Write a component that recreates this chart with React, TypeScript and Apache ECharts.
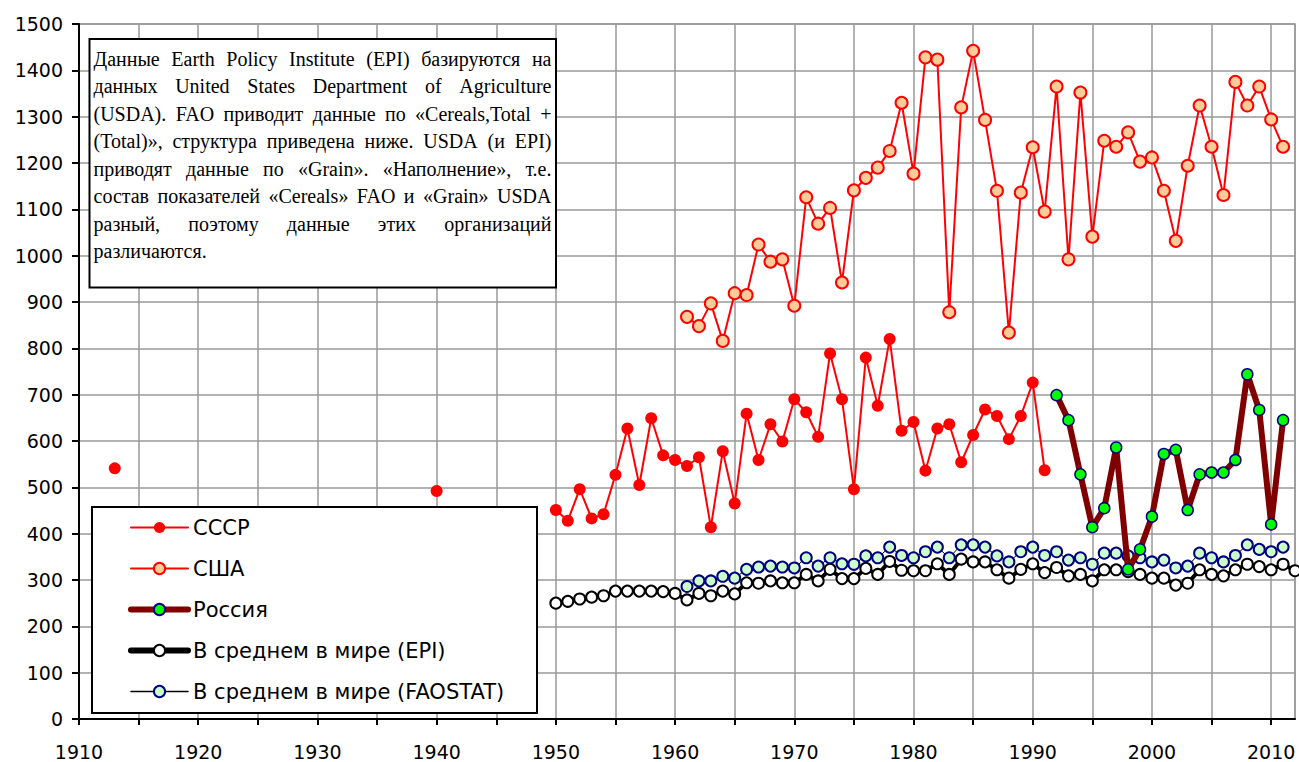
import React, { useEffect, useRef } from "react";
import * as echarts from "echarts";

// ---- data ----
const ussrYears = [1913, 1940, 1950, 1951, 1952, 1953, 1954, 1955, 1956, 1957, 1958, 1959, 1960, 1961, 1962, 1963, 1964, 1965, 1966, 1967, 1968, 1969, 1970, 1971, 1972, 1973, 1974, 1975, 1976, 1977, 1978, 1979, 1980, 1981, 1982, 1983, 1984, 1985, 1986, 1987, 1988, 1989, 1990, 1991];
const ussrValues = [541, 492, 451, 428, 496, 433, 442, 527, 627, 505, 649, 569, 559, 546, 565, 414, 578, 465, 659, 559, 636, 599, 690, 662, 609, 789, 690, 496, 780, 676, 820, 622, 641, 536, 627, 636, 554, 613, 668, 654, 604, 654, 726, 537];

const usaStart = 1961;
const usaValues = [868, 848, 897, 816, 919, 915, 1024, 987, 992, 892, 1126, 1069, 1103, 942, 1141, 1168, 1190, 1226, 1330, 1177, 1428, 1423, 878, 1320, 1442, 1293, 1140, 834, 1136, 1234, 1095, 1365, 992, 1352, 1041, 1248, 1235, 1266, 1203, 1212, 1140, 1032, 1194, 1324, 1235, 1131, 1375, 1324, 1365, 1294, 1235];

const russiaStart = 1992;
const russiaValues = [699, 645, 528, 414, 455, 586, 323, 366, 437, 572, 581, 451, 528, 532, 532, 559, 744, 667, 420, 645];

const epiStart = 1950;
const epiValues = [250, 254, 259, 263, 266, 276, 276, 276, 276, 275, 271, 257, 271, 266, 276, 270, 294, 293, 298, 294, 294, 312, 298, 323, 303, 303, 325, 312, 340, 321, 320, 320, 335, 312, 345, 339, 339, 322, 304, 323, 335, 316, 327, 309, 312, 298, 322, 322, 318, 312, 304, 304, 289, 293, 322, 312, 309, 322, 334, 329, 322, 334, 320];

const faoStart = 1961;
const faoValues = [286, 298, 298, 308, 304, 323, 328, 330, 328, 326, 348, 330, 348, 335, 334, 352, 348, 371, 353, 348, 361, 371, 348, 376, 376, 371, 352, 339, 361, 371, 353, 361, 343, 348, 334, 358, 358, 352, 348, 339, 343, 326, 330, 358, 348, 339, 353, 376, 366, 361, 371];

const seriesNames = ["СССР", "США", "Россия", "В среднем в мире (EPI)", "В среднем в мире (FAOSTAT)"];

const noteLines = [
  "Данные Earth Policy Institute (EPI) базируются на",
  "данных United States Department of Agriculture",
  "(USDA). FAO приводит данные по «Cereals,Total +",
  "(Total)», структура приведена ниже. USDA (и EPI)",
  "приводят данные по «Grain». «Наполнение», т.е.",
  "состав показателей «Cereals» FAO и «Grain» USDA",
  "разный, поэтому данные этих организаций",
  "различаются.",
];

function seq(start: number, values: number[]) {
  return values.map((v, i) => [start + i, v]);
}
function withGaps(years: number[], values: number[]) {
  const out: any[] = [];
  years.forEach((y, i) => {
    if (i > 0 && y - years[i - 1] > 1) out.push([years[i - 1] + 1, "-"]);
    out.push([y, values[i]]);
  });
  return out;
}

const SANS = "'DejaVu Sans', 'Liberation Sans', Arial, sans-serif";
const SERIF = "'Liberation Serif', 'Times New Roman', serif";

export default function App() {
  const ref = useRef<HTMLDivElement>(null);
  useEffect(() => {
    if (!ref.current) return;
    const chart = echarts.init(ref.current, null, { renderer: "svg" });

    // justified note text
    const fs = 20;
    const canvas = document.createElement("canvas");
    const ctx = canvas.getContext("2d")!;
    ctx.font = `${fs}px ${SERIF}`;
    const textX = 93.5;
    const textW = 458;
    const firstY = 59;
    const lh = 27.45;
    const noteEls: any[] = [];
    noteLines.forEach((line, li) => {
      const y = firstY + li * lh;
      const words = line.split(" ");
      if (li === noteLines.length - 1 || words.length < 2) {
        noteEls.push({
          type: "text", x: textX, y, z: 11,
          style: { text: line, font: `${fs}px ${SERIF}`, fill: "#000", textVerticalAlign: "middle" },
        });
        return;
      }
      const widths = words.map((w) => ctx.measureText(w).width);
      const sum = widths.reduce((a, b) => a + b, 0);
      const gap = (textW - sum) / (words.length - 1);
      let x = textX;
      words.forEach((w, wi) => {
        noteEls.push({
          type: "text", x, y, z: 11,
          style: { text: w, font: `${fs}px ${SERIF}`, fill: "#000", textVerticalAlign: "middle" },
        });
        x += widths[wi] + gap;
      });
    });

    const legendLineWidths = [2, 2, 6, 6, 1.5];
    const legendLineColors = ["#ff0000", "#ff0000", "#800000", "#000", "#000"];

    const option: any = {
      animation: false,
      backgroundColor: "#fff",
      grid: {
        left: 79, right: 4, top: 24, bottom: 43,
        show: true, borderColor: "#999", borderWidth: 1.5,
      },
      xAxis: {
        type: "value", min: 1910, max: 2012, interval: 5,
        axisLine: { show: true, onZero: false, lineStyle: { color: "#000", width: 2 } },
        axisTick: { show: true, length: 6, lineStyle: { color: "#000", width: 2 } },
        axisLabel: {
          color: "#000", fontFamily: SANS, fontSize: 19, margin: 23,
          formatter: (v: number) => (v % 10 === 0 ? String(v) : ""),
          showMaxLabel: false,
        },
        splitLine: { show: true, lineStyle: { color: "#999", width: 1.5 } },
      },
      yAxis: {
        type: "value", min: 0, max: 1500, interval: 100,
        axisLine: { show: true, lineStyle: { color: "#000", width: 2 } },
        axisTick: { show: true, length: 7, lineStyle: { color: "#000", width: 2 } },
        axisLabel: {
          color: "#000", fontFamily: SANS, fontSize: 19, margin: 16,
          formatter: (v: number) => String(v),
        },
        splitLine: { show: true, lineStyle: { color: "#999", width: 1.5 } },
      },
      legend: {
        orient: "vertical", left: 128, top: 517, padding: 0,
        itemWidth: 57, itemHeight: 14, itemGap: 20, z: 12,
        selectedMode: false,
        textStyle: { color: "#000", fontFamily: SANS, fontSize: 21, lineHeight: 20 },
        data: seriesNames.map((n, i) => ({
          name: n,
          lineStyle: { width: legendLineWidths[i], color: legendLineColors[i], cap: "round" },
        })),
      },
      graphic: [
        {
          type: "rect", z: 10,
          shape: { x: 89.5, y: 39, width: 466.5, height: 248.5 },
          style: { fill: "#fff", stroke: "#000", lineWidth: 2 },
        },
        ...noteEls,
        {
          type: "rect", z: 10,
          shape: { x: 92, y: 507, width: 445, height: 206 },
          style: { fill: "#fff", stroke: "#000", lineWidth: 2 },
        },
      ],
      series: [
        {
          name: seriesNames[0], type: "line", data: withGaps(ussrYears, ussrValues),
          symbol: "circle", symbolSize: 12, showSymbol: true, connectNulls: false,
          lineStyle: { color: "#ff0000", width: 2 },
          itemStyle: { color: "#ff0000", borderColor: "#ff0000", borderWidth: 0 },
          z: 2,
        },
        {
          name: seriesNames[1], type: "line", data: seq(usaStart, usaValues),
          symbol: "circle", symbolSize: 12,
          lineStyle: { color: "#ff0000", width: 2 },
          itemStyle: { color: "#ffcc99", borderColor: "#ff0000", borderWidth: 2 },
          z: 2,
        },
        {
          name: seriesNames[2], type: "line", data: seq(russiaStart, russiaValues),
          symbol: "circle", symbolSize: 11,
          lineStyle: { color: "#800000", width: 6 },
          itemStyle: { color: "#00ff00", borderColor: "#000080", borderWidth: 1.5 },
          z: 4,
        },
        {
          name: seriesNames[3], type: "line", data: seq(epiStart, epiValues),
          symbol: "circle", symbolSize: 11,
          lineStyle: { color: "#000", width: 4 },
          itemStyle: { color: "#fff", borderColor: "#000", borderWidth: 2 },
          z: 3,
        },
        {
          name: seriesNames[4], type: "line", data: seq(faoStart, faoValues),
          symbol: "circle", symbolSize: 11,
          lineStyle: { color: "#000", width: 1 },
          itemStyle: { color: "#ccffcc", borderColor: "#000080", borderWidth: 2 },
          z: 3,
        },
      ],
    };
    chart.setOption(option);
    return () => chart.dispose();
  }, []);
  return (
    <div
      ref={ref}
      style={{ position: "absolute", left: 0, top: 0, width: 1299, height: 762, background: "#fff" }}
    />
  );
}
